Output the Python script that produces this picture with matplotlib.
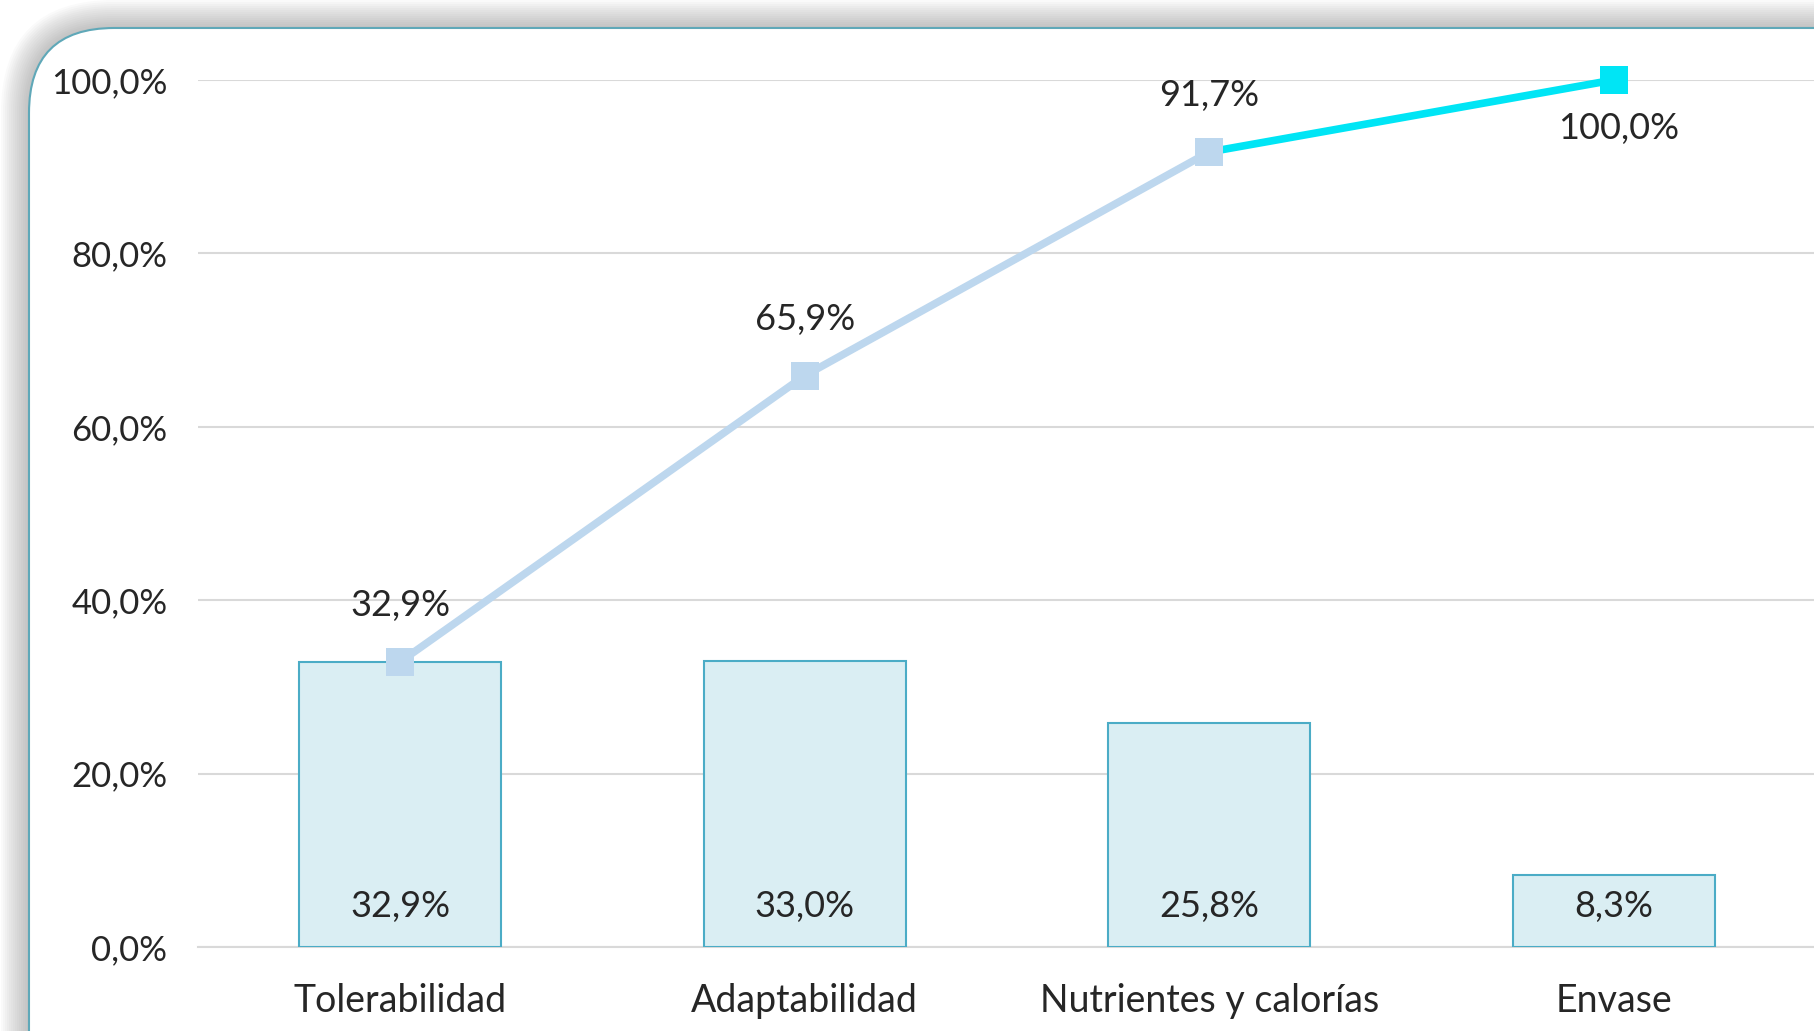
import matplotlib.pyplot as plt
from matplotlib.patches import FancyBboxPatch
from matplotlib.ticker import FuncFormatter

# data
categories = ['Tolerabilidad', 'Adaptabilidad', 'Nutrientes y calorías', 'Envase']
shares = [32.9, 33.0, 25.8, 8.3]
cumulative = [32.9, 65.9, 91.7, 100.0]
y_ticks = [0, 20, 40, 60, 80, 100]

W, H = 1815, 1031
text_color = '#262626'
grid_color = '#d9d9d9'
bar_face = '#daeef3'
bar_edge = '#4bacc6'
line_light = '#bdd7ee'
line_cyan = '#00e5f5'

plt.rcParams['font.family'] = ['Lato', 'DejaVu Sans']

fig = plt.figure(figsize=(W / 100, H / 100), dpi=100)
fig.patch.set_facecolor('white')


def pct(v):
    return f'{v:.1f}%'.replace('.', ',')


# soft shadow round the rounded frame
fx, fy = 29, 28
for i in range(14):
    grow = (14 - i) * 2
    sh = FancyBboxPatch(((fx - grow) / W, -0.2), (W + 200) / W, (H - fy + grow) / H + 0.2,
                        boxstyle=f'round,pad=0,rounding_size={(85 + grow) / W}',
                        transform=fig.transFigure, facecolor='#808080', edgecolor='none',
                        alpha=0.04, mutation_aspect=W / H, zorder=0)
    fig.patches.append(sh)
frame = FancyBboxPatch((fx / W, -0.2), (W + 200) / W, (H - fy) / H + 0.2,
                       boxstyle=f'round,pad=0,rounding_size={85 / W}',
                       transform=fig.transFigure, facecolor='white', edgecolor='#5fa8b8',
                       linewidth=1.5, mutation_aspect=W / H, zorder=1)
fig.patches.append(frame)

left, right, top, bottom = 198, 1816, 80, 947
ax = fig.add_axes([left / W, (H - bottom) / H, (right - left) / W, (bottom - top) / H])
ax.set_facecolor('none')
ax.set_zorder(5)

x = list(range(len(categories)))
ax.bar(x, shares, width=0.5, color=bar_face, edgecolor=bar_edge, linewidth=1.5, zorder=3)
for xi, v in zip(x, shares):
    ax.annotate(pct(v), (xi, 0), xytext=(0, 41), textcoords='offset pixels',
                ha='center', va='center', fontsize=26, color=text_color, zorder=6)

# cumulative line
ax.plot(x[:3], cumulative[:3], color=line_light, linewidth=5.5, zorder=4, clip_on=False)
ax.plot(x[2:], cumulative[2:], color=line_cyan, linewidth=5.5, zorder=4, clip_on=False)
ax.plot(x[:3], cumulative[:3], color=line_light, marker='s', markersize=20,
        markeredgewidth=0, linestyle='none', zorder=5, clip_on=False)
ax.plot(x[3:], cumulative[3:], color=line_cyan, marker='s', markersize=20,
        markeredgewidth=0, linestyle='none', zorder=5, clip_on=False)
for i, (xi, v) in enumerate(zip(x, cumulative)):
    if i == len(x) - 1:
        dx, dy = 5, -49
    else:
        dx, dy = 0, 56
    ax.annotate(pct(v), (xi, v), xytext=(dx, dy), textcoords='offset pixels',
                ha='center', va='center', fontsize=26, color=text_color, zorder=6,
                annotation_clip=False)

ax.set_xlim(-0.5, 3.5)
ax.set_ylim(0, 100)
ax.set_yticks(y_ticks)
ax.yaxis.set_major_formatter(FuncFormatter(lambda v, p: pct(v)))
ax.set_xticks(x)
ax.set_xticklabels(categories)
ax.tick_params(axis='both', length=0, labelcolor=text_color)
ax.tick_params(axis='y', pad=22, labelsize=25)
ax.tick_params(axis='x', pad=26, labelsize=27)
ax.grid(axis='y', color=grid_color, linewidth=1.5, zorder=0)
ax.set_axisbelow(True)
for s in ['top', 'right', 'left']:
    ax.spines[s].set_visible(False)
ax.spines['bottom'].set_color(grid_color)
ax.spines['bottom'].set_linewidth(1.5)

fig.savefig('out.png', dpi=100)
